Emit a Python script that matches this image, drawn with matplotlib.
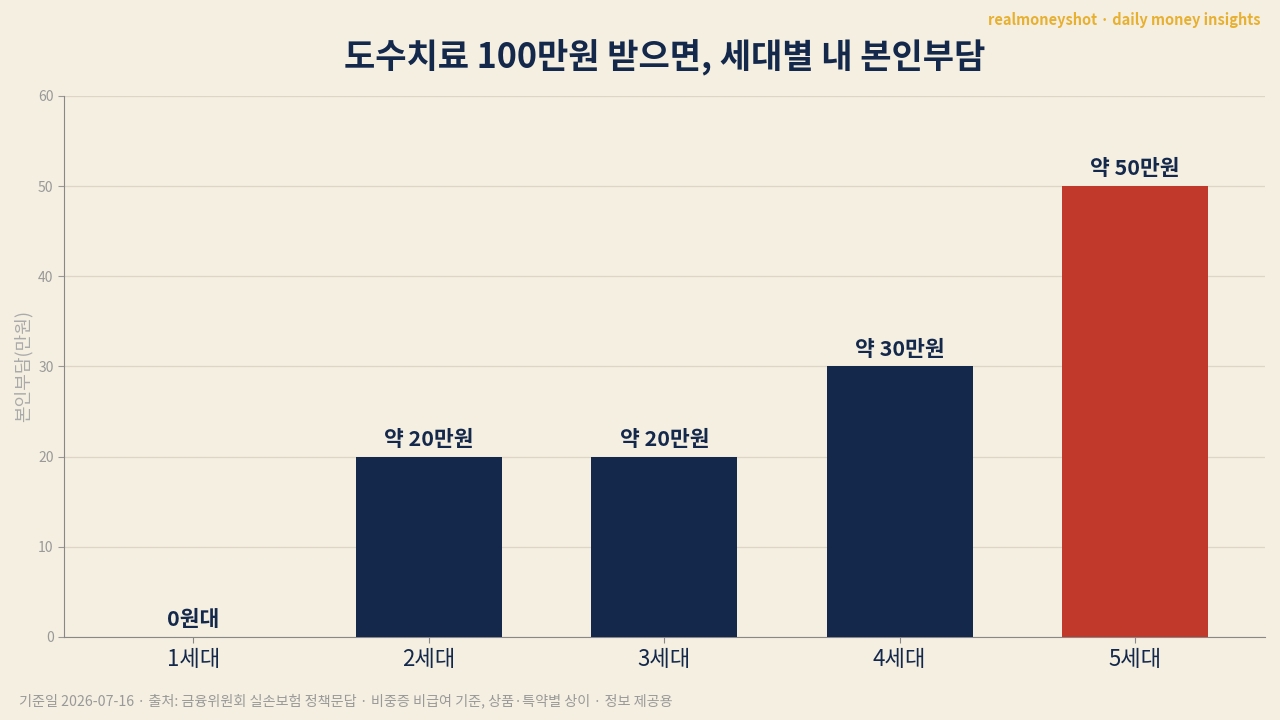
import matplotlib

matplotlib.use("Agg")
import matplotlib.pyplot as plt

plt.rcParams["font.family"] = ["Noto Sans CJK KR", "DejaVu Sans"]

# ─── Data ───────────────────────────────────────────────────────────────────
generations = ["1세대", "2세대", "3세대", "4세대", "5세대"]
burden = [0, 20, 20, 30, 50]  # 만원
bar_labels = ["0원대", "약 20만원", "약 20만원", "약 30만원", "약 50만원"]
bar_colors = ["#14284b", "#14284b", "#14284b", "#14284b", "#c0392b"]
y_ticks = [0, 10, 20, 30, 40, 50, 60]

BG = "#f4efe1"
NAVY = "#14284b"

fig = plt.figure(figsize=(12.8, 7.2), dpi=100, facecolor=BG)
ax = fig.add_axes([0.05, 0.1153, 0.938, 0.7514])
ax.set_facecolor(BG)

x = list(range(len(generations)))
ax.bar(x, burden, width=0.62, color=bar_colors, zorder=3)

for xi, val, lab in zip(x, burden, bar_labels):
    ax.annotate(
        lab, (xi, val),
        xytext=(0, 5), textcoords="offset points",
        ha="center", va="bottom",
        fontsize=15.5, fontweight="bold", color=NAVY,
    )

ax.set_xlim(-0.55, 4.55)
ax.set_ylim(0, 60)
ax.set_yticks(y_ticks)
ax.set_xticks(x)
ax.set_xticklabels(generations, fontsize=16, color=NAVY)
ax.tick_params(axis="y", labelsize=10, colors="#999999", length=4)
ax.tick_params(axis="x", length=4, color="#888888", pad=4)
ax.yaxis.grid(True, color="#ddd5c5", linewidth=0.9, zorder=0)
ax.set_axisbelow(True)

for side in ("top", "right"):
    ax.spines[side].set_visible(False)
for side in ("left", "bottom"):
    ax.spines[side].set_color("#888888")

ax.set_ylabel("본인부담(만원)", fontsize=13, color="#aaaaaa", labelpad=4)

# title centred over the plot area
fig.text(
    0.519, 0.92, "도수치료 100만원 받으면, 세대별 내 본인부담",
    ha="center", va="center", fontsize=24.5, fontweight="bold", color=NAVY,
)
fig.text(
    0.985, 0.972, "realmoneyshot · daily money insights",
    ha="right", va="center", fontsize=10.5, fontweight="bold", color="#e8b030",
)
fig.text(
    0.015, 0.027,
    "기준일 2026-07-16 · 출처: 금융위원회 실손보험 정책문답 · 비중증 비급여 기준, 상품·특약별 상이 · 정보 제공용",
    ha="left", va="center", fontsize=10.2, color="#999999",
)

fig.savefig("out.png", dpi=100, facecolor=fig.get_facecolor())
